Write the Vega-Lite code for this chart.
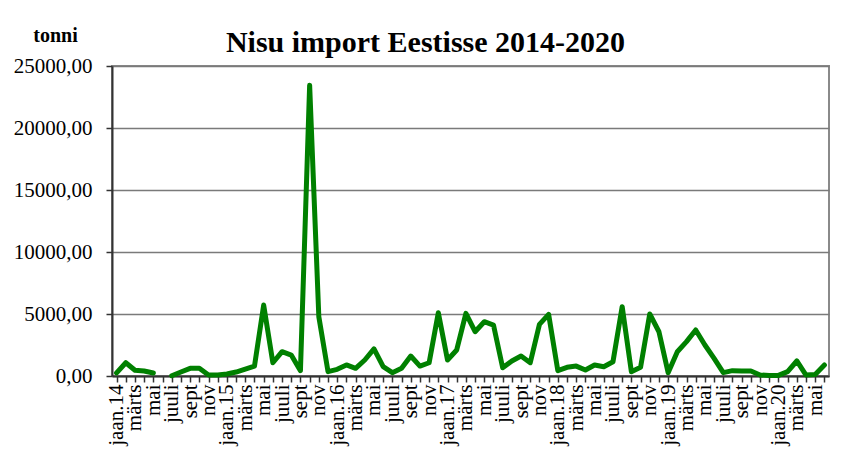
{
  "$schema": "https://vega.github.io/schema/vega-lite/v6.json",
  "width": 717,
  "height": 310,
  "autosize": {"type": "none"},
  "padding": {"left": 112, "top": 66, "right": 14, "bottom": 90},
  "background": "white",
  "config": {
    "font": "Liberation Serif, Times New Roman, serif",
    "view": {"stroke": "#8a8a8a", "strokeWidth": 2}
  },
  "title": {
    "text": "Nisu import Eestisse 2014-2020",
    "font": "Liberation Serif, Times New Roman, serif",
    "fontSize": 30,
    "fontWeight": "bold",
    "color": "black",
    "anchor": "middle",
    "frame": "group",
    "dx": -45,
    "baseline": "alphabetic",
    "offset": -57
  },
  "data": {
    "values": [
      {"kuu": "2014-01", "tonni": 250},
      {"kuu": "2014-02", "tonni": 1070},
      {"kuu": "2014-03", "tonni": 460},
      {"kuu": "2014-04", "tonni": 400},
      {"kuu": "2014-05", "tonni": 240},
      {"kuu": "2014-06", "tonni": null},
      {"kuu": "2014-07", "tonni": 20},
      {"kuu": "2014-08", "tonni": 320},
      {"kuu": "2014-09", "tonni": 620},
      {"kuu": "2014-10", "tonni": 620},
      {"kuu": "2014-11", "tonni": 80},
      {"kuu": "2014-12", "tonni": 80},
      {"kuu": "2015-01", "tonni": 160},
      {"kuu": "2015-02", "tonni": 320},
      {"kuu": "2015-03", "tonni": 560},
      {"kuu": "2015-04", "tonni": 800},
      {"kuu": "2015-05", "tonni": 5720},
      {"kuu": "2015-06", "tonni": 1070},
      {"kuu": "2015-07", "tonni": 1960},
      {"kuu": "2015-08", "tonni": 1690},
      {"kuu": "2015-09", "tonni": 430},
      {"kuu": "2015-10", "tonni": 23450},
      {"kuu": "2015-11", "tonni": 4780},
      {"kuu": "2015-12", "tonni": 350},
      {"kuu": "2016-01", "tonni": 540},
      {"kuu": "2016-02", "tonni": 890},
      {"kuu": "2016-03", "tonni": 620},
      {"kuu": "2016-04", "tonni": 1290},
      {"kuu": "2016-05", "tonni": 2180},
      {"kuu": "2016-06", "tonni": 750},
      {"kuu": "2016-07", "tonni": 270},
      {"kuu": "2016-08", "tonni": 620},
      {"kuu": "2016-09", "tonni": 1610},
      {"kuu": "2016-10", "tonni": 800},
      {"kuu": "2016-11", "tonni": 1070},
      {"kuu": "2016-12", "tonni": 5100},
      {"kuu": "2017-01", "tonni": 1290},
      {"kuu": "2017-02", "tonni": 2100},
      {"kuu": "2017-03", "tonni": 5050},
      {"kuu": "2017-04", "tonni": 3570},
      {"kuu": "2017-05", "tonni": 4380},
      {"kuu": "2017-06", "tonni": 4110},
      {"kuu": "2017-07", "tonni": 670},
      {"kuu": "2017-08", "tonni": 1210},
      {"kuu": "2017-09", "tonni": 1610},
      {"kuu": "2017-10", "tonni": 1070},
      {"kuu": "2017-11", "tonni": 4160},
      {"kuu": "2017-12", "tonni": 4970},
      {"kuu": "2018-01", "tonni": 430},
      {"kuu": "2018-02", "tonni": 700},
      {"kuu": "2018-03", "tonni": 800},
      {"kuu": "2018-04", "tonni": 480},
      {"kuu": "2018-05", "tonni": 890},
      {"kuu": "2018-06", "tonni": 750},
      {"kuu": "2018-07", "tonni": 1150},
      {"kuu": "2018-08", "tonni": 5590},
      {"kuu": "2018-09", "tonni": 350},
      {"kuu": "2018-10", "tonni": 700},
      {"kuu": "2018-11", "tonni": 5000},
      {"kuu": "2018-12", "tonni": 3570},
      {"kuu": "2019-01", "tonni": 270},
      {"kuu": "2019-02", "tonni": 1960},
      {"kuu": "2019-03", "tonni": 2770},
      {"kuu": "2019-04", "tonni": 3710},
      {"kuu": "2019-05", "tonni": 2500},
      {"kuu": "2019-06", "tonni": 1420},
      {"kuu": "2019-07", "tonni": 270},
      {"kuu": "2019-08", "tonni": 430},
      {"kuu": "2019-09", "tonni": 400},
      {"kuu": "2019-10", "tonni": 400},
      {"kuu": "2019-11", "tonni": 80},
      {"kuu": "2019-12", "tonni": 50},
      {"kuu": "2020-01", "tonni": 50},
      {"kuu": "2020-02", "tonni": 350},
      {"kuu": "2020-03", "tonni": 1210},
      {"kuu": "2020-04", "tonni": 80},
      {"kuu": "2020-05", "tonni": 130},
      {"kuu": "2020-06", "tonni": 890}
    ]
  },
  "mark": {
    "type": "line",
    "color": "#008000",
    "strokeWidth": 5,
    "strokeJoin": "round",
    "strokeCap": "round",
    "invalid": "break-paths-show-domains"
  },
  "encoding": {
    "x": {
      "field": "kuu",
      "type": "ordinal",
      "scale": {"type": "point", "padding": 0.5},
      "axis": {
        "title": null,
        "labelAngle": -90,
        "labelAlign": "right",
        "labelBaseline": "middle",
        "labelFont": "Liberation Serif, Times New Roman, serif",
        "labelFontSize": 21,
        "labelColor": "black",
        "labelPadding": 2,
        "labelOverlap": false,
        "labelExpr": "substring(datum.value,5,7)=='01' ? 'jaan.'+substring(datum.value,2,4) : substring(datum.value,5,7)=='03' ? 'märts' : substring(datum.value,5,7)=='05' ? 'mai' : substring(datum.value,5,7)=='07' ? 'juuli' : substring(datum.value,5,7)=='09' ? 'sept' : substring(datum.value,5,7)=='11' ? 'nov' : ''",
        "ticks": true,
        "tickSize": 6,
        "tickColor": "#333333",
        "tickWidth": 1.5,
        "domainColor": "#333333",
        "domainWidth": 2,
        "grid": false
      }
    },
    "y": {
      "field": "tonni",
      "type": "quantitative",
      "scale": {"domain": [0, 25000], "nice": false, "zero": true},
      "axis": {
        "values": [0, 5000, 10000, 15000, 20000, 25000],
        "labelExpr": "replace(format(datum.value, '.2f'), '.', ',')",
        "labelFont": "Liberation Serif, Times New Roman, serif",
        "labelFontSize": 21,
        "labelColor": "black",
        "labelPadding": 14,
        "tickSize": 6,
        "tickColor": "#333333",
        "tickWidth": 1.5,
        "domainColor": "#333333",
        "domainWidth": 2,
        "grid": true,
        "gridColor": "#7a7a7a",
        "gridWidth": 1.5,
        "title": "tonni",
        "titleFont": "Liberation Serif, Times New Roman, serif",
        "titleFontSize": 20,
        "titleFontWeight": "bold",
        "titleColor": "black",
        "titleAngle": 0,
        "titleAlign": "center",
        "titleBaseline": "middle",
        "titleX": -57,
        "titleY": -31
      }
    }
  }
}
